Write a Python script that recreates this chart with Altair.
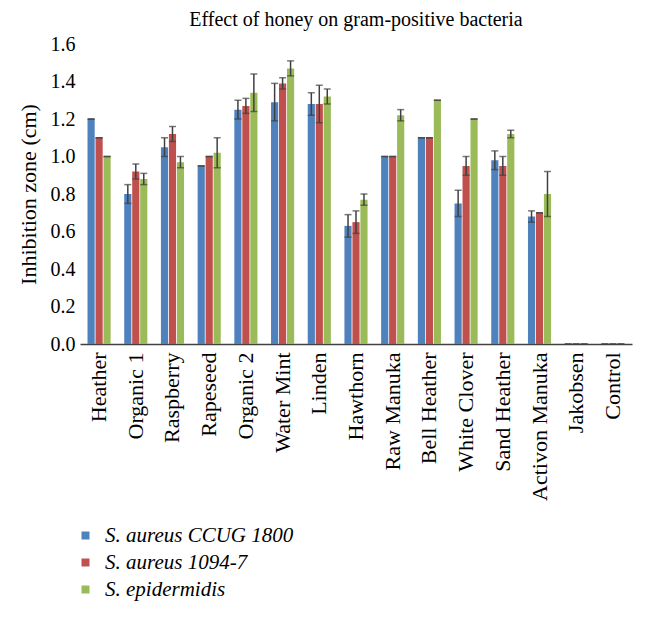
import altair as alt
import pandas as pd

categories = ["Heather", "Organic 1", "Raspberry", "Rapeseed", "Organic 2", "Water Mint",
              "Linden", "Hawthorn", "Raw Manuka", "Bell Heather", "White Clover",
              "Sand Heather", "Activon Manuka", "Jakobsen", "Control"]
series = ["S. aureus CCUG 1800", "S. aureus 1094-7", "S. epidermidis"]

s1_values = [1.20, 0.80, 1.05, 0.95, 1.25, 1.29, 1.28, 0.63, 1.00, 1.10, 0.75, 0.98, 0.68, 0.0, 0.0]
s1_errors = [0.00, 0.05, 0.05, 0.00, 0.05, 0.10, 0.06, 0.06, 0.00, 0.00, 0.07, 0.05, 0.03, 0.0, 0.0]
s2_values = [1.10, 0.92, 1.12, 1.00, 1.27, 1.39, 1.28, 0.65, 1.00, 1.10, 0.95, 0.95, 0.70, 0.0, 0.0]
s2_errors = [0.00, 0.04, 0.04, 0.00, 0.04, 0.03, 0.10, 0.06, 0.00, 0.00, 0.05, 0.05, 0.00, 0.0, 0.0]
s3_values = [1.00, 0.88, 0.97, 1.02, 1.34, 1.47, 1.32, 0.77, 1.22, 1.30, 1.20, 1.12, 0.80, 0.0, 0.0]
s3_errors = [0.00, 0.03, 0.03, 0.08, 0.10, 0.04, 0.04, 0.03, 0.03, 0.00, 0.00, 0.02, 0.12, 0.0, 0.0]

colors = ["#4F81BD", "#C0504D", "#9BBB59"]
y_ticks = [0.0, 0.2, 0.4, 0.6, 0.8, 1.0, 1.2, 1.4, 1.6]

rows = []
for s, vals, errs in zip(series, [s1_values, s2_values, s3_values], [s1_errors, s2_errors, s3_errors]):
    for c, v, e in zip(categories, vals, errs):
        rows.append({"honey": c, "strain": s, "value": v, "lo": max(v - e, 0), "hi": v + e})
df = pd.DataFrame(rows)

FONT = "Liberation Serif"
Y_TITLE = "Inhibition zone (cm)"

x_scale = alt.Scale(paddingInner=0.37, paddingOuter=0.205)
x_axis = alt.Axis(labelAngle=-90, labelAlign="right", labelBaseline="middle",
                  labelFontSize=22, labelFont=FONT, labelColor="black",
                  labelPadding=8, ticks=False, domainColor="#404040",
                  domainWidth=1.5, labelOverlap=False, labelLimit=300)
y_axis = alt.Axis(values=y_ticks, format=".1f", grid=False, domain=False, ticks=False,
                  labelOverlap=False, labelFontSize=20, labelFont=FONT,
                  labelColor="black", labelPadding=5,
                  titleFontSize=22, titleFont=FONT, titleFontWeight="normal",
                  titleColor="black", titlePadding=10)
x_enc = alt.X("honey:N", sort=categories, title=None, scale=x_scale, axis=x_axis)
xo_enc = alt.XOffset("strain:N", sort=series,
                     scale=alt.Scale(paddingInner=0.1, paddingOuter=0))
y_scale = alt.Scale(domain=[0, 1.6], nice=False)

bars = alt.Chart(df).mark_bar().encode(
    x=x_enc,
    xOffset=xo_enc,
    y=alt.Y("value:Q", scale=y_scale, title=Y_TITLE, axis=y_axis),
    color=alt.Color("strain:N", sort=series,
                    scale=alt.Scale(domain=series, range=colors),
                    legend=alt.Legend(title=None, orient="none", legendX=-5, legendY=481,
                                      symbolType="square", symbolSize=64, symbolStrokeWidth=0,
                                      labelFontSize=21, labelFont=FONT, labelFontStyle="italic",
                                      labelColor="black", rowPadding=5, labelOffset=9,
                                      labelLimit=400)),
)

rules = alt.Chart(df).mark_rule(color="#404040", strokeWidth=1.5).encode(
    x=x_enc,
    xOffset=xo_enc,
    y=alt.Y("lo:Q", scale=y_scale, title=Y_TITLE, axis=y_axis),
    y2="hi:Q",
)
caps_hi = alt.Chart(df).mark_tick(color="#404040", thickness=1.5, size=7).encode(
    x=x_enc,
    xOffset=xo_enc,
    y=alt.Y("hi:Q", scale=y_scale, title=Y_TITLE, axis=y_axis),
)
caps_lo = alt.Chart(df).mark_tick(color="#404040", thickness=1.5, size=7).encode(
    x=x_enc,
    xOffset=xo_enc,
    y=alt.Y("lo:Q", scale=y_scale, title=Y_TITLE, axis=y_axis),
)

chart = alt.layer(bars, rules, caps_hi, caps_lo).properties(
    width=552, height=300,
    autosize=alt.AutoSizeParams(type="none"),
    padding={"left": 72, "top": 36, "right": 6, "bottom": 266},
    title=alt.TitleParams("Effect of honey on gram-positive bacteria", font=FONT, fontSize=20,
                          fontWeight="normal", color="black", anchor="middle", offset=4),
).configure_view(stroke=None)

chart.save("out.html", embed_options={"renderer": "svg", "actions": False})
